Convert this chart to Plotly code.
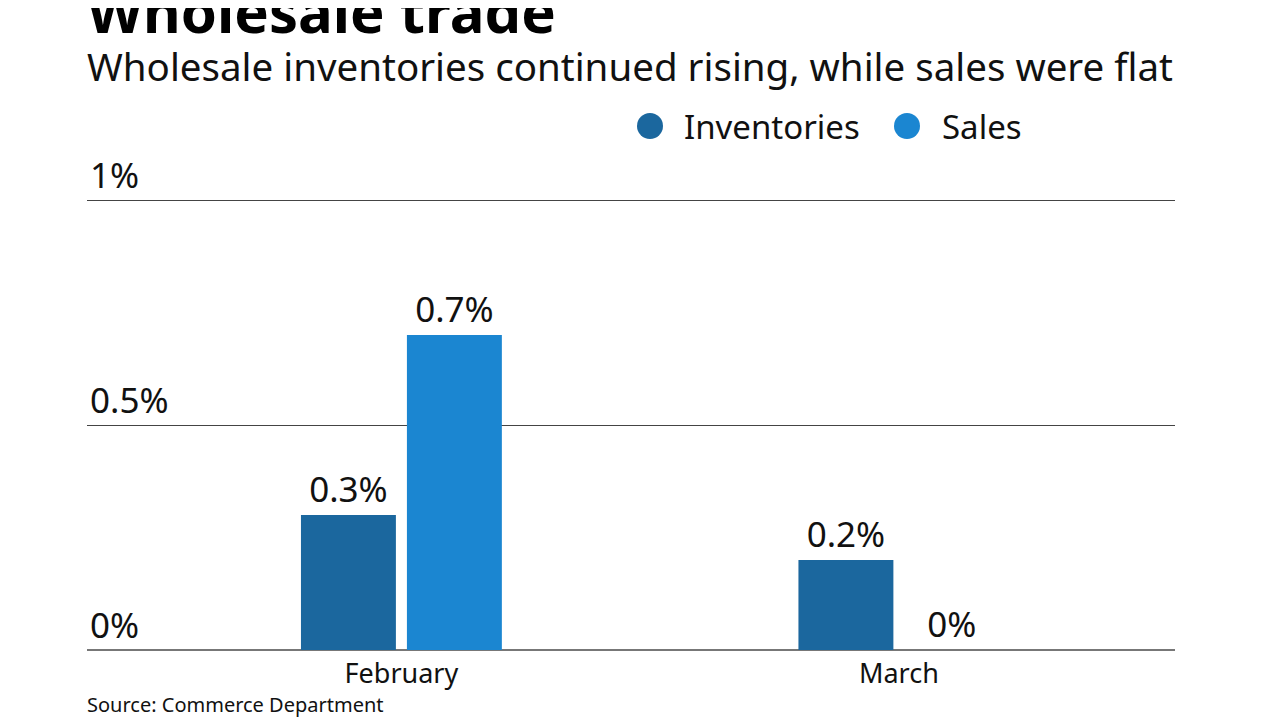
import plotly.graph_objects as go

categories = ["February", "March"]
inventories = [0.3, 0.2]
sales = [0.7, 0.0]
series_names = ["Inventories", "Sales"]
colors = ["#1b679e", "#1b86d1"]
y_ticks = [0, 0.5, 1]
y_tick_labels = ["0%", "0.5%", "1%"]

FONT = "Noto Sans"
OFF = 8  # page body margin offset
W, H = 1280 - OFF, 720 - OFF
PL, PT, PR, PB = 87 - OFF, 120 - OFF, 1175 - OFF, 650 - OFF  # plot box in figure px
PH = PB - PT
PW = PR - PL
YMAX = 1 + 80 / 450


def py(screen_y):
    return (PB - (screen_y - OFF)) / PH


def px(screen_x):
    return ((screen_x - OFF) - PL) / PW


fig = go.Figure()
for name, vals, col in zip(series_names, [inventories, sales], colors):
    fig.add_trace(go.Bar(
        x=categories, y=vals, name=name, marker_color=col, marker_line_width=0,
        text=[f"{v:g}%" for v in vals], texttemplate="%{text}",
        textposition="outside", cliponaxis=False,
        textfont=dict(family=FONT, size=35, color="#111"), showlegend=False,
    ))

fig.update_layout(
    width=W, height=H,
    margin=dict(l=PL, r=W - PR, t=PT, b=H - PB),
    paper_bgcolor="white", plot_bgcolor="white",
    barmode="group", bargap=0.574, bargroupgap=0.104,
    font=dict(family=FONT, color="#111"),
    xaxis=dict(type="category", range=[-0.632, 1.555], showgrid=False,
               showline=False, ticks="", ticklabelstandoff=5,
               tickfont=dict(size=27, family=FONT)),
    yaxis=dict(range=[0, YMAX], tickvals=y_ticks, ticktext=y_tick_labels,
               showgrid=True, gridcolor="#444", gridwidth=1,
               zeroline=True, zerolinecolor="#777", zerolinewidth=2,
               ticklabelposition="inside top", ticks="",
               tickfont=dict(size=35, family=FONT, color="#111")),
    showlegend=False,
)

# custom legend (circle swatches + labels)
legend_circle_x = [650, 907]
legend_text_x = [682, 940]
for name, col, cx, tx in zip(series_names, colors, legend_circle_x, legend_text_x):
    fig.add_shape(type="circle", xref="paper", yref="paper",
                  xsizemode="pixel", ysizemode="pixel",
                  xanchor=px(cx), yanchor=py(126),
                  x0=-13, x1=13, y0=-13, y1=13,
                  fillcolor=col, line_width=0)
    fig.add_annotation(text=name, xref="paper", yref="paper",
                       x=px(tx), y=py(126), xanchor="left", yanchor="middle",
                       showarrow=False, font=dict(size=33, family=FONT, color="#111"))

fig.add_annotation(text="<b>Wholesale trade</b>", xref="paper", yref="paper",
                   x=0, xshift=-2, y=py(11), xanchor="left", yanchor="middle",
                   showarrow=False, font=dict(size=58, family=FONT, color="#000"))
fig.add_annotation(text="Wholesale inventories continued rising, while sales were flat",
                   xref="paper", yref="paper", x=0, xshift=-2, y=py(66),
                   xanchor="left", yanchor="middle", showarrow=False,
                   font=dict(size=38.5, family=FONT, color="#111"))
fig.add_annotation(text="Source: Commerce Department", xref="paper", yref="paper",
                   x=0, xshift=-2, y=py(704), xanchor="left", yanchor="middle",
                   showarrow=False, font=dict(size=20, family=FONT, color="#111"))

fig.write_html("out.html")
